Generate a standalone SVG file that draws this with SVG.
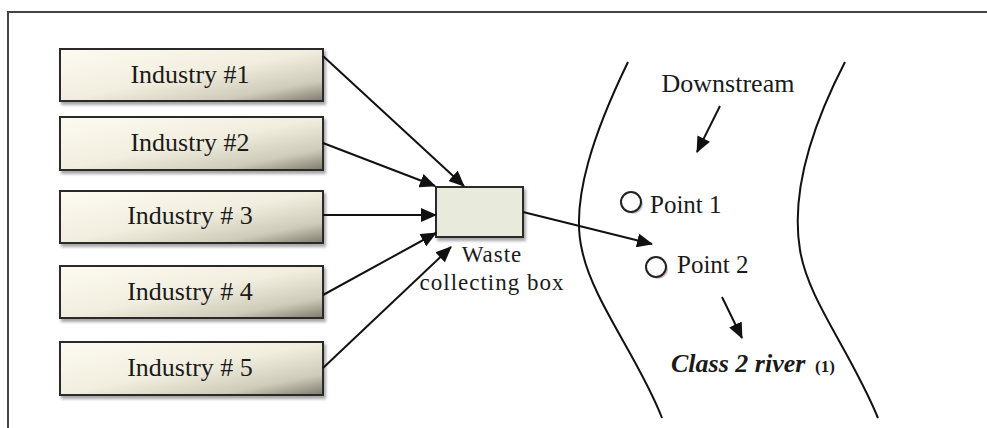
<svg xmlns="http://www.w3.org/2000/svg" width="987" height="428" viewBox="0 0 987 428">
<defs>
<linearGradient id="indGrad" x1="0" y1="0" x2="1" y2="1">
<stop offset="0" stop-color="#fdfbf1"/>
<stop offset="0.5" stop-color="#f1eedf"/>
<stop offset="0.8" stop-color="#cfcbba"/>
<stop offset="1" stop-color="#7e7a6c"/>
</linearGradient>
<filter id="shadow" x="-10%" y="-20%" width="130%" height="160%">
<feDropShadow dx="2" dy="3" stdDeviation="1.5" flood-color="#000" flood-opacity="0.35"/>
</filter>
<marker id="arrow" markerUnits="userSpaceOnUse" markerWidth="16" markerHeight="14" refX="15" refY="7" orient="auto">
<path d="M0,0 L16,7 L0,14 Z" fill="#111"/>
</marker>
<style>
.ind{fill:url(#indGrad);stroke:#2b2b2b;stroke-width:2;filter:url(#shadow)}
.lbl{font-family:"Liberation Serif","Times New Roman",serif;fill:#1a1a1a}
.ind-t{font-size:26px;text-anchor:middle}
.conn{stroke:#111;stroke-width:2;fill:none;marker-end:url(#arrow)}
.river{stroke:#111;stroke-width:2;fill:none}
</style>
</defs>
<rect x="0" y="0" width="987" height="428" fill="#fff"/>
<path d="M8,428 L8,12 L987,12" fill="none" stroke="#444" stroke-width="2"/>

<g id="industry1"><rect class="ind" x="60" y="49" width="263" height="52"/><text class="lbl ind-t" x="190" y="83">Industry #1</text></g>
<g id="industry2"><rect class="ind" x="60" y="117" width="263" height="53"/><text class="lbl ind-t" x="190" y="151">Industry #2</text></g>
<g id="industry3"><rect class="ind" x="60" y="191" width="263" height="52"/><text class="lbl ind-t" x="190" y="224">Industry # 3</text></g>
<g id="industry4"><rect class="ind" x="60" y="266" width="263" height="52"/><text class="lbl ind-t" x="190" y="300">Industry # 4</text></g>
<g id="industry5"><rect class="ind" x="60" y="342" width="263" height="53"/><text class="lbl ind-t" x="190" y="376">Industry # 5</text></g>

<g id="waste-box">
<rect x="436" y="187" width="87" height="50" fill="#e8ebdb" stroke="#2b2b2b" stroke-width="2" filter="url(#shadow)"/>
<text class="lbl" x="492" y="262" font-size="23" text-anchor="middle" letter-spacing="1">Waste</text>
<text class="lbl" x="492" y="290" font-size="23" text-anchor="middle" letter-spacing="1">collecting box</text>
</g>

<g id="river">
<path class="river" d="M628,62 C595,130 570,200 582,250 C592,300 640,360 662,418"/>
<path class="river" d="M845,62 C815,120 790,190 800,250 C808,300 850,350 878,418"/>
<text class="lbl" x="728" y="92" font-size="26" text-anchor="middle">Downstream</text>
<text class="lbl" x="671" y="372" font-size="26" font-weight="bold" font-style="italic">Class 2 river</text>
<text class="lbl" x="815" y="372" font-size="17" font-weight="bold">(1)</text>
</g>

<g id="point1">
<circle cx="633" cy="204" r="10" fill="#9fb0c8" opacity="0.7"/>
<circle cx="631" cy="202" r="10" fill="#fff" stroke="#222" stroke-width="2"/>
<text class="lbl" x="650" y="213" font-size="25">Point 1</text>
</g>
<g id="point2">
<circle cx="658" cy="269" r="10" fill="#c99a9a" opacity="0.7"/>
<circle cx="656" cy="267" r="10" fill="#fff" stroke="#222" stroke-width="2"/>
<text class="lbl" x="677" y="273" font-size="25">Point 2</text>
</g>

<g id="connectors">
<line class="conn" x1="323" y1="56" x2="464" y2="186"/>
<line class="conn" x1="323" y1="143" x2="435" y2="186"/>
<line class="conn" x1="323" y1="215" x2="436" y2="215"/>
<line class="conn" x1="323" y1="295" x2="436" y2="233"/>
<line class="conn" x1="323" y1="368" x2="451" y2="247"/>
<line class="conn" x1="523" y1="212" x2="652" y2="244"/>
<line class="conn" x1="720" y1="106" x2="697" y2="152"/>
<line class="conn" x1="722" y1="297" x2="742" y2="338"/>
</g>
</svg>
